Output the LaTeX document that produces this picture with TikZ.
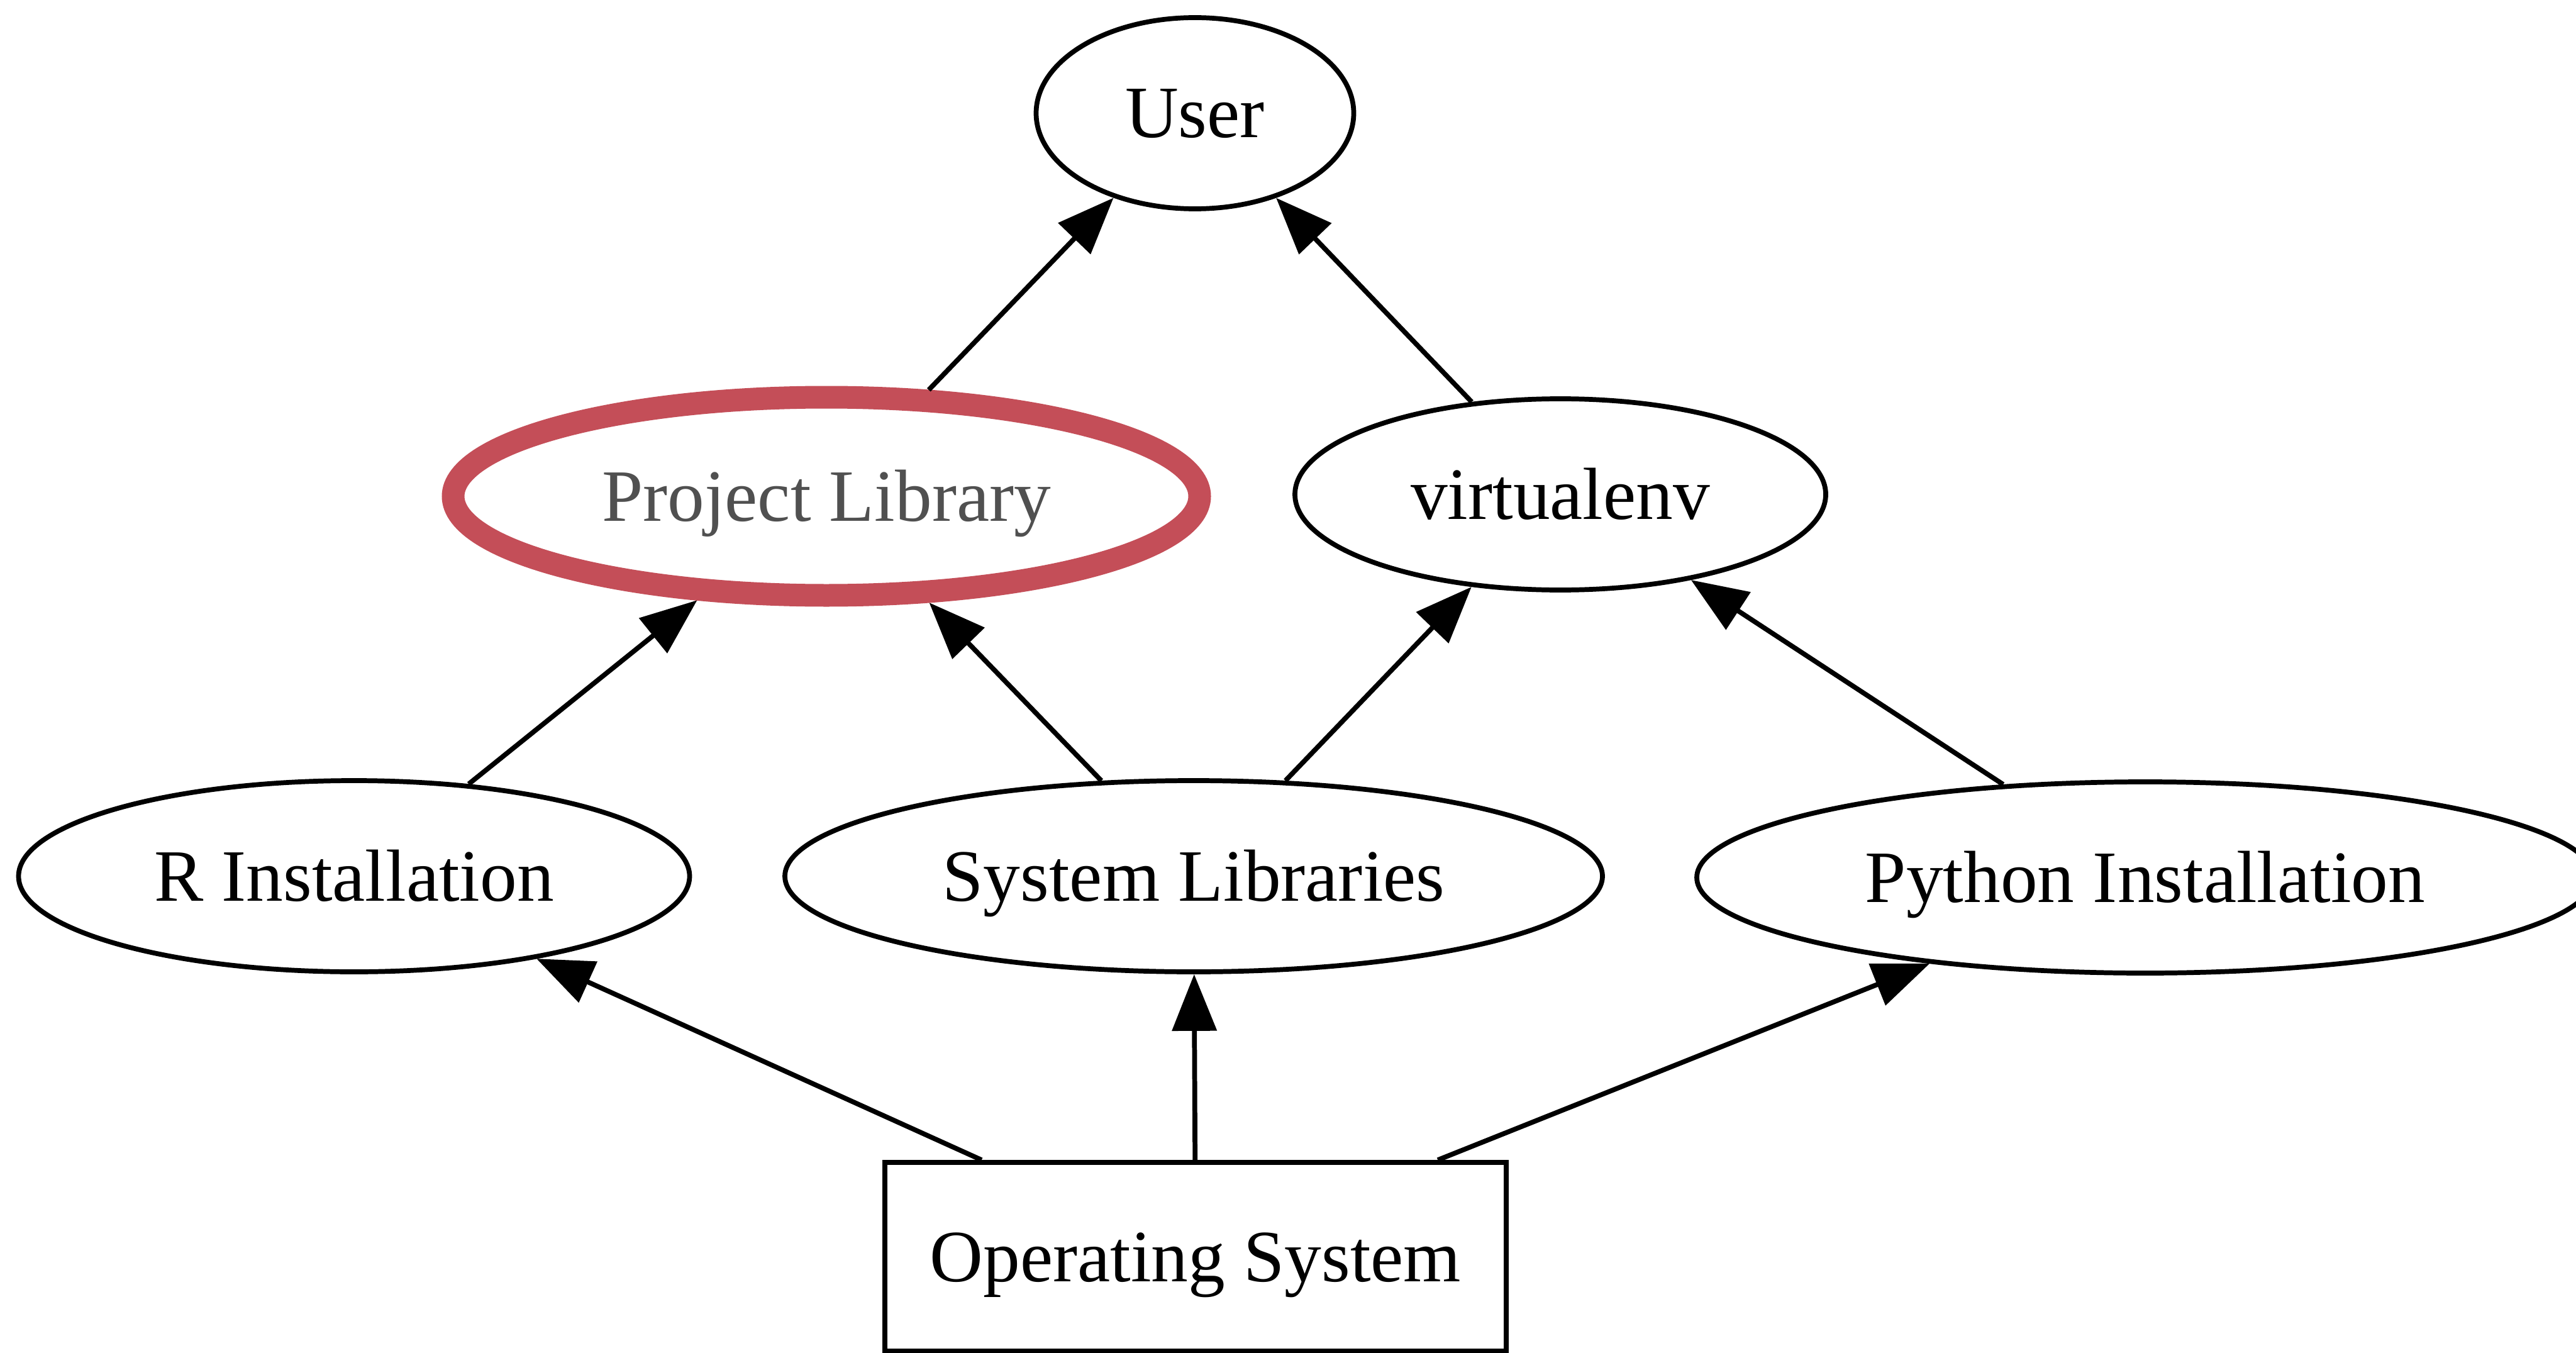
\documentclass[tikz,border=0pt]{standalone}
\usepackage{fontspec}
\setmainfont{Liberation Serif}
\usetikzlibrary{shapes.geometric, arrows.meta}
\definecolor{LibRed}{HTML}{C44E58}
\definecolor{LibGray}{HTML}{505050}
\definecolor{LineBlack}{HTML}{000000}
\tikzset{
    % Node styles
    layernode/.style={
        ellipse,
        draw=LineBlack,
        line width=2.2pt,
        fill=white,
        inner sep=0pt,
        minimum height=3.04cm,
        text height=0.98cm,
        text depth=0.2cm,
        font=\fontsize{33.4}{40}\selectfont
    },
    focusnode/.style={
        layernode,
        draw=LibRed,
        line width=0.36cm,
        text=LibGray,
        minimum height=3.15cm
    },
    basebox/.style={
        rectangle,
        draw=LineBlack,
        line width=2.2pt,
        fill=white,
        inner sep=0pt,
        minimum height=3cm,
        text height=0.98cm,
        text depth=0.2cm,
        font=\fontsize{33.4}{40}\selectfont
    },
    % Arrow style
    deparrow/.style={
        -{Triangle[length=0.9cm,width=0.7cm]},
        line width=2.2pt,
        LineBlack
    }
}
\begin{document}
\begin{tikzpicture}
    \useasboundingbox (0,0) rectangle (40.96,-21.51);

    % Top
    \node[layernode, minimum width=5.05cm] (user) at (19.0,-1.80) {User};

    % Middle row
    \node[focusnode, minimum width=11.87cm] (projlib) at (13.14,-7.89) {Project Library};
    \node[layernode, minimum width=8.44cm] (venv) at (24.81,-7.86) {virtualenv};

    % Bottom row
    \node[layernode, minimum width=10.67cm] (rinst) at (5.63,-13.93) {R Installation};
    \node[layernode, minimum width=13.0cm] (syslib) at (18.98,-13.93) {System Libraries};
    \node[layernode, minimum width=14.26cm] (pyinst) at (34.11,-13.95) {Python Installation};

    % Base
    \node[basebox, minimum width=9.88cm] (os) at (19.01,-19.98) {Operating System};

    % Dependencies
    \draw[deparrow] (projlib) -- (user);
    \draw[deparrow] (venv) -- (user);
    \draw[deparrow] (rinst) -- (projlib);
    \draw[deparrow] (syslib) -- (projlib);
    \draw[deparrow] (syslib) -- (venv);
    \draw[deparrow] (pyinst) -- (venv);
    \draw[deparrow] (os) -- (rinst);
    \draw[deparrow] (os) -- (syslib);
    \draw[deparrow] (os) -- (pyinst);
\end{tikzpicture}
\end{document}
